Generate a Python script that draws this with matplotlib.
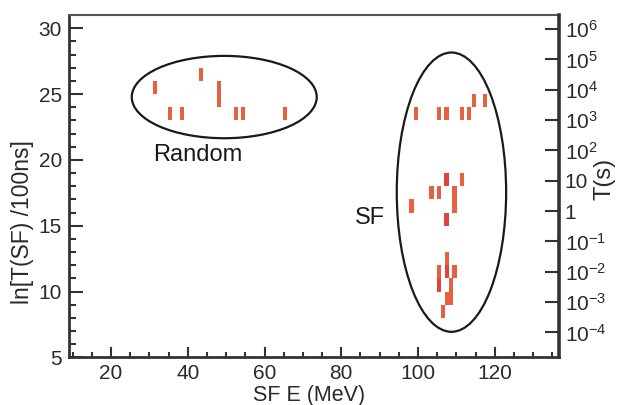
import numpy as np
import matplotlib
matplotlib.use("Agg")
import matplotlib.pyplot as plt
from matplotlib.patches import Ellipse

plt.rcParams['font.family'] = ['Liberation Sans', 'DejaVu Sans']
plt.rcParams['mathtext.fontset'] = 'custom'
plt.rcParams['mathtext.rm'] = 'Liberation Sans'

# bins: energy (MeV), lower / upper edge in ln[T/100ns], dark flag
bin_e = [31.5, 35.4, 38.4, 43.4, 48.1, 52.6, 54.3, 65.4,
         99.4, 105.5, 107.4, 111.4, 113.3, 114.5, 117.5,
         107.4, 111.4, 103.5, 105.5, 109.5, 98.3, 107.4,
         105.5, 105.5, 107.5, 107.5, 108.5, 108.5, 107.5, 109.5, 106.4]
bin_lo = [25, 23, 23, 26, 24, 23, 23, 23,
          23, 23, 23, 23, 23, 24, 24,
          18, 18, 17, 17, 16, 16, 15,
          11, 10, 12, 11, 10, 9, 9, 11, 8]
bin_hi = [26, 24, 24, 27, 26, 24, 24, 24,
          24, 24, 24, 24, 24, 25, 25,
          19, 19, 18, 18, 18, 17, 16,
          12, 11, 13, 12, 11, 10, 10, 12, 9]
bin_dark = [0, 0, 0, 0, 0, 0, 0, 0,
            0, 0, 0, 0, 0, 0, 0,
            1, 0, 0, 0, 0, 0, 1,
            0, 1, 0, 1, 0, 0, 0, 0, 0]

# right axis decades T(s)
t_exp = [-4, -3, -2, -1, 0, 1, 2, 3, 4, 5, 6]
t_labels = [r'$\mathregular{10^{-4}}$', r'$\mathregular{10^{-3}}$', r'$\mathregular{10^{-2}}$',
            r'$\mathregular{10^{-1}}$', '1', '10', r'$\mathregular{10^{2}}$',
            r'$\mathregular{10^{3}}$', r'$\mathregular{10^{4}}$', r'$\mathregular{10^{5}}$',
            r'$\mathregular{10^{6}}$']

# ellipses: center x, center y, width, height
ell_random = (49.5, 24.77, 48.2, 6.25)
ell_sf = (108.7, 17.55, 28.5, 21.2)

fig = plt.figure(figsize=(6.24, 4.05), dpi=100)
ax = fig.add_axes([0.1106, 0.1173, 0.7857, 0.8457])

colors = ['#DF4240' if d else '#E8613F' for d in bin_dark]
heights = [h - l for l, h in zip(bin_lo, bin_hi)]
ax.bar(bin_e, heights, width=1.1, bottom=bin_lo, color=colors, linewidth=0, zorder=2)

for cx, cy, w, h in [ell_random, ell_sf]:
    ax.add_patch(Ellipse((cx, cy), w, h, fill=False, edgecolor='#1a1a1a', lw=1.6, zorder=3))

ax.text(42.7, 20.35, 'Random', fontsize=17, ha='center', va='center', color='#1a1a1a')
ax.text(87.4, 15.6, 'SF', fontsize=17, ha='center', va='center', color='#1a1a1a')

ax.set_xlim(9.05, 136.8)
ax.set_ylim(5, 31.0)
ax.set_xticks([20, 40, 60, 80, 100, 120])
ax.set_xticks(np.arange(10, 136, 5), minor=True)
ax.set_yticks([5, 10, 15, 20, 25, 30])
ax.set_yticks(np.arange(5, 31, 1), minor=True)

dark = '#333333'
ax.tick_params(axis='x', which='major', direction='in', length=7, width=1.5, color=dark,
               labelsize=15, labelcolor='#2a2a2a', pad=5)
ax.tick_params(axis='x', which='minor', direction='in', length=3.5, width=1.5, color=dark)
ax.tick_params(axis='y', which='major', direction='in', length=10, width=1.5, color=dark,
               labelsize=15, labelcolor='#2a2a2a', pad=5)
ax.tick_params(axis='y', which='minor', direction='in', length=5, width=1.5, color=dark)

for s in ['left', 'bottom']:
    ax.spines[s].set_linewidth(2.0)
    ax.spines[s].set_color(dark)
ax.spines['top'].set_linewidth(1.5)
ax.spines['top'].set_color('#555555')
ax.spines['right'].set_visible(False)

ax2 = ax.twinx()
ax2.set_ylim(ax.get_ylim())
ax2.set_yticks([np.log(10.0 ** k / 1e-7) for k in t_exp])
ax2.set_yticklabels(t_labels)
ax2.tick_params(axis='y', which='major', direction='in', length=10, width=1.5, color=dark,
                labelsize=15, labelcolor='#2a2a2a', pad=4)
ax2.spines['right'].set_linewidth(2.6)
ax2.spines['right'].set_color(dark)
for s in ['left', 'bottom', 'top']:
    ax2.spines[s].set_visible(False)

fig.text(309 / 624, 1 - 395 / 405, 'SF E (MeV)', fontsize=15.5, ha='center', va='center', color='#2a2a2a')
fig.text(23 / 624, 1 - 222 / 405, 'ln[T(SF) /100ns]', fontsize=16.5, ha='center', va='center',
         rotation=90, color='#2a2a2a')
fig.text(604 / 624, 1 - 179 / 405, 'T(s)', fontsize=17, ha='center', va='center',
         rotation=90, color='#2a2a2a')

fig.savefig('out.png', dpi=100)
